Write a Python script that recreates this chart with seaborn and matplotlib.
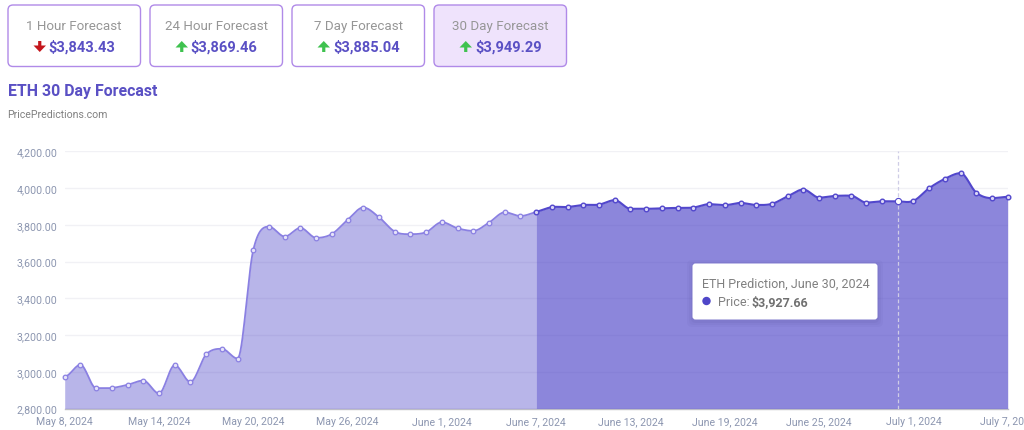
import matplotlib
matplotlib.use('Agg')
import matplotlib.pyplot as plt
import matplotlib.patches as mpatches
import matplotlib.dates as mdates
import numpy as np
import pandas as pd
import seaborn as sns

# daily values, May 8 - June 7 is history, rest is forecast
history = [2974, 3038, 2911, 2912, 2929, 2952, 2882, 3036, 2945, 3094, 3125, 3072,
           3663, 3790, 3736, 3783, 3729, 3750, 3827, 3894, 3841, 3763, 3749, 3760,
           3814, 3781, 3767, 3812, 3868, 3848, 3870]
forecast = [3896, 3897, 3908, 3910, 3934, 3887, 3887, 3890, 3892, 3894, 3912, 3907,
            3919, 3908, 3914, 3955, 3992, 3948, 3957, 3959, 3921, 3928, 3927.66, 3930,
            3999, 4050, 4081, 3975, 3945, 3952]
y_ticks = [2800, 3000, 3200, 3400, 3600, 3800, 4000, 4200]
x_labels = ['May 8, 2024', 'May 14, 2024', 'May 20, 2024', 'May 26, 2024', 'June 1, 2024',
            'June 7, 2024', 'June 13, 2024', 'June 19, 2024', 'June 25, 2024', 'July 1, 2024',
            'July 7, 2024']
card_titles = ['1 Hour Forecast', '24 Hour Forecast', '7 Day Forecast', '30 Day Forecast']
card_values = ['$3,843.43', '$3,869.46', '$3,885.04', '$3,949.29']
card_up = [False, True, True, True]

W, H = 1024, 431
INDIGO = '#4F46C8'
TICK = '#8C96B0'


def smooth(x, y, n=16):
    # same look as the chart lib: flat tangent at a peak or dip, cardinal otherwise
    xs, ys = [], []
    for i in range(len(x) - 1):
        p0 = y[max(i - 1, 0)]
        p1, p2 = y[i], y[i + 1]
        p3 = y[min(i + 2, len(y) - 1)]
        c1 = p1 if (p1 - p0) * (p2 - p1) <= 0 else p1 + (p2 - p0) / 6
        c2 = p2 if (p2 - p1) * (p3 - p2) <= 0 else p2 - (p3 - p1) / 6
        t = np.linspace(0, 1, n, endpoint=False)
        xs.append(x[i] + (x[i + 1] - x[i]) * t)
        ys.append((1 - t) ** 3 * p1 + 3 * (1 - t) ** 2 * t * c1 + 3 * (1 - t) * t ** 2 * c2 + t ** 3 * p2)
    xs.append([x[-1]])
    ys.append([y[-1]])
    return np.concatenate(xs), np.concatenate(ys)


prices = np.array(history + forecast)
dates = pd.date_range('2024-05-08', periods=len(prices))
x = mdates.date2num(dates)
split = x[len(history) - 1]
df = pd.DataFrame({'date': x, 'price': prices})
cx, cy = smooth(x, prices)
curve = pd.DataFrame({'date': cx, 'price': cy})
old = curve[curve.date <= split]
new = curve[curve.date >= split]

sns.set_theme(style='white')
plt.rcParams['font.family'] = ['Roboto', 'DejaVu Sans']
fig = plt.figure(figsize=(W / 100, H / 100), dpi=100, facecolor='white')

# chart area in pixels: x 64.7-1007.7, y 152.3-409.5
ax = fig.add_axes([64.7 / W, 1 - 409.5 / H, 943 / W, 257.2 / H])
ax.fill_between(old.date, 2800, old.price, color=INDIGO, alpha=0.40, lw=0, zorder=3)
ax.fill_between(new.date, 2800, new.price, color=INDIGO, alpha=0.65, lw=0, zorder=3)
sns.lineplot(data=old, x='date', y='price', ax=ax, color='#8A80E2', lw=1.3, zorder=4, estimator=None, sort=False)
sns.lineplot(data=new, x='date', y='price', ax=ax, color='#5247CC', lw=1.5, zorder=4, estimator=None, sort=False)
hist_pts = df[df.date < split]
fore_pts = df[df.date >= split]
sns.scatterplot(data=hist_pts, x='date', y='price', ax=ax, s=11, color='#E6E4F9', edgecolor='#8A80E2',
                linewidth=0.9, zorder=5, clip_on=False)
sns.scatterplot(data=fore_pts, x='date', y='price', ax=ax, s=11, color='#DAD7F5', edgecolor='#5247CC',
                linewidth=1.0, zorder=5, clip_on=False)
hover = df[df.price == 3927.66]
ax.axvline(hover.date.iloc[0], color='#CFCDE6', lw=0.9, ls=(0, (3, 2)), zorder=4)
sns.scatterplot(data=hover, x='date', y='price', ax=ax, s=20, color='white', edgecolor='#5247CC',
                linewidth=0.8, zorder=6, clip_on=False)

ax.set_xlim(x[0], x[-1])
ax.set_ylim(2800, 4200)
ax.set_yticks(y_ticks)
ax.set_yticklabels([f'{v:,.2f}' for v in y_ticks])
ax.set_xticks(x[::6])
ax.set_xticklabels(x_labels)
ax.set_xlabel('')
ax.set_ylabel('')
ax.grid(axis='y', color='#F1F1F5', lw=1, zorder=1)
ax.set_axisbelow(True)
for side in ['top', 'right', 'left']:
    ax.spines[side].set_visible(False)
ax.spines['bottom'].set_color('#BDBDC6')
ax.spines['bottom'].set_linewidth(1)
ax.tick_params(axis='y', length=0, pad=5.3, labelsize=7.7, labelcolor=TICK)
ax.tick_params(axis='x', length=2.4, width=0.9, color='#A9A9B2', pad=3.1, labelsize=7.6, labelcolor=TICK)
ax.patch.set_alpha(0)

# overlay in pixel coordinates for the cards, headings and tooltip
ov = fig.add_axes([0, 0, 1, 1], zorder=10)
ov.set_xlim(0, W)
ov.set_ylim(H, 0)
ov.axis('off')
ov.patch.set_alpha(0)

card_x = [8, 150, 292, 434]
card_w = 132.5
for i in range(4):
    left = card_x[i]
    face = '#EFE3FC' if i == 3 else 'white'
    ov.add_patch(mpatches.FancyBboxPatch((left + 4, 10), card_w - 8, 53.5,
                                         boxstyle='round,pad=4,rounding_size=5', fc=face, ec='#B08AE8', lw=1))
    mid = left + card_w / 2
    ov.text(mid, 26.5, card_titles[i], ha='center', va='center', fontsize=9.6, color='#969696')
    ov.text(mid + 8, 47.5, card_values[i], ha='center', va='center', fontsize=10.5, fontweight='bold', color='#5A50C4')
    ax_x = mid - 34.5
    if card_up[i]:
        ov.add_patch(mpatches.FancyArrow(ax_x, 53, 0, -11, width=3.2, head_width=12.5, head_length=6.5,
                                         length_includes_head=True, fc='#3FC24F', ec='none'))
    else:
        ov.add_patch(mpatches.FancyArrow(ax_x, 42, 0, 11, width=3.2, head_width=12.5, head_length=6.5,
                                         length_includes_head=True, fc='#C4161C', ec='none'))

ov.text(7.5, 91.5, 'ETH 30 Day Forecast', ha='left', va='center', fontsize=11.4, fontweight='bold', color='#5A50C4')
ov.text(7.5, 115, 'PricePredictions.com', ha='left', va='center', fontsize=7.6, color='#808080')

# tooltip with a soft shadow
for grow, a in [(6, 0.03), (4, 0.04), (2, 0.05)]:
    ov.add_patch(mpatches.FancyBboxPatch((695, 267 + 2), 180, 51, boxstyle=f'round,pad={2 + grow},rounding_size=5',
                                         fc='#2A2560', ec='none', alpha=a))
ov.add_patch(mpatches.FancyBboxPatch((695, 267), 180, 51, boxstyle='round,pad=2.5,rounding_size=3', fc='white', ec='none'))
ov.text(702, 284, 'ETH Prediction, June 30, 2024', ha='left', va='center', fontsize=9.0, color='#808080')
ov.add_patch(mpatches.Circle((706.5, 302), 4.2, fc=INDIGO, ec='none'))
ov.text(718, 302.5, 'Price: ', ha='left', va='center', fontsize=9.0, color='#808080')
ov.text(752, 302.5, '$3,927.66', ha='left', va='center', fontsize=9.0, fontweight='bold', color='#707070')

fig.savefig('out.png', dpi=100)
